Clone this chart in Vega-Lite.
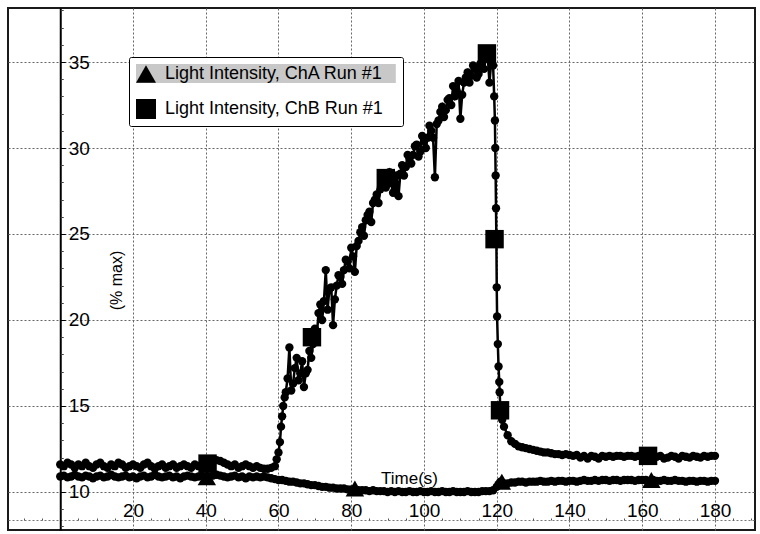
{
  "$schema": "https://vega.github.io/schema/vega-lite/v6.json",
  "width": 747,
  "height": 522,
  "autosize": {"type": "none"},
  "padding": {"left": 8, "top": 8, "right": 5, "bottom": 4},
  "background": "white",
  "config": {
    "view": {"stroke": "#1a1a1a", "strokeWidth": 2},
    "font": "Liberation Sans"
  },
  "datasets": {
    "series": [
      {"c":"ChA","t":0,"v":10.9},{"c":"ChA","t":1,"v":10.95},{"c":"ChA","t":2,"v":10.85},{"c":"ChA","t":3,"v":10.9},{"c":"ChA","t":4,"v":11.0},{"c":"ChA","t":5,"v":10.9},{"c":"ChA","t":6,"v":10.85},{"c":"ChA","t":7,"v":10.95},{"c":"ChA","t":8,"v":10.9},{"c":"ChA","t":9,"v":10.8},
      {"c":"ChA","t":10,"v":10.9},{"c":"ChA","t":11,"v":10.95},{"c":"ChA","t":12,"v":10.85},{"c":"ChA","t":13,"v":10.9},{"c":"ChA","t":14,"v":11.0},{"c":"ChA","t":15,"v":10.9},{"c":"ChA","t":16,"v":10.85},{"c":"ChA","t":17,"v":10.9},{"c":"ChA","t":18,"v":10.95},{"c":"ChA","t":19,"v":10.85},
      {"c":"ChA","t":20,"v":10.9},{"c":"ChA","t":21,"v":10.8},{"c":"ChA","t":22,"v":10.9},{"c":"ChA","t":23,"v":10.95},{"c":"ChA","t":24,"v":10.85},{"c":"ChA","t":25,"v":10.9},{"c":"ChA","t":26,"v":11.0},{"c":"ChA","t":27,"v":10.9},{"c":"ChA","t":28,"v":10.85},{"c":"ChA","t":29,"v":10.9},
      {"c":"ChA","t":30,"v":10.95},{"c":"ChA","t":31,"v":10.85},{"c":"ChA","t":32,"v":10.9},{"c":"ChA","t":33,"v":10.8},{"c":"ChA","t":34,"v":10.9},{"c":"ChA","t":35,"v":10.95},{"c":"ChA","t":36,"v":10.9},{"c":"ChA","t":37,"v":10.85},{"c":"ChA","t":38,"v":10.9},{"c":"ChA","t":39,"v":10.95},
      {"c":"ChA","t":40,"v":10.85},{"c":"ChA","t":41,"v":10.9},{"c":"ChA","t":42,"v":10.95},{"c":"ChA","t":43,"v":11.0},{"c":"ChA","t":44,"v":10.95},{"c":"ChA","t":45,"v":10.9},{"c":"ChA","t":46,"v":10.85},{"c":"ChA","t":47,"v":10.9},{"c":"ChA","t":48,"v":10.95},{"c":"ChA","t":49,"v":10.85},
      {"c":"ChA","t":50,"v":10.9},{"c":"ChA","t":51,"v":10.8},{"c":"ChA","t":52,"v":10.9},{"c":"ChA","t":53,"v":10.85},{"c":"ChA","t":54,"v":10.9},{"c":"ChA","t":55,"v":10.85},{"c":"ChA","t":56,"v":10.9},{"c":"ChA","t":57,"v":10.85},{"c":"ChA","t":58,"v":10.8},{"c":"ChA","t":59,"v":10.75},
      {"c":"ChA","t":60,"v":10.7},{"c":"ChA","t":61,"v":10.7},{"c":"ChA","t":62,"v":10.65},{"c":"ChA","t":63,"v":10.6},{"c":"ChA","t":64,"v":10.6},{"c":"ChA","t":65,"v":10.55},{"c":"ChA","t":66,"v":10.5},{"c":"ChA","t":67,"v":10.5},{"c":"ChA","t":68,"v":10.45},{"c":"ChA","t":69,"v":10.4},
      {"c":"ChA","t":70,"v":10.4},{"c":"ChA","t":71,"v":10.35},{"c":"ChA","t":72,"v":10.3},{"c":"ChA","t":73,"v":10.3},{"c":"ChA","t":74,"v":10.25},{"c":"ChA","t":75,"v":10.25},{"c":"ChA","t":76,"v":10.2},{"c":"ChA","t":77,"v":10.2},{"c":"ChA","t":78,"v":10.2},{"c":"ChA","t":79,"v":10.15},
      {"c":"ChA","t":80,"v":10.15},{"c":"ChA","t":81,"v":10.15},{"c":"ChA","t":82,"v":10.1},{"c":"ChA","t":83,"v":10.1},{"c":"ChA","t":84,"v":10.1},{"c":"ChA","t":85,"v":10.05},{"c":"ChA","t":86,"v":10.1},{"c":"ChA","t":87,"v":10.05},{"c":"ChA","t":88,"v":10.05},{"c":"ChA","t":89,"v":10.05},
      {"c":"ChA","t":90,"v":10.0},{"c":"ChA","t":91,"v":10.05},{"c":"ChA","t":92,"v":10.0},{"c":"ChA","t":93,"v":10.05},{"c":"ChA","t":94,"v":10.0},{"c":"ChA","t":95,"v":10.0},{"c":"ChA","t":96,"v":10.05},{"c":"ChA","t":97,"v":10.0},{"c":"ChA","t":98,"v":10.0},{"c":"ChA","t":99,"v":10.05},
      {"c":"ChA","t":100,"v":10.0},{"c":"ChA","t":101,"v":10.0},{"c":"ChA","t":102,"v":10.05},{"c":"ChA","t":103,"v":10.0},{"c":"ChA","t":104,"v":10.0},{"c":"ChA","t":105,"v":10.05},{"c":"ChA","t":106,"v":10.0},{"c":"ChA","t":107,"v":10.0},{"c":"ChA","t":108,"v":10.05},{"c":"ChA","t":109,"v":10.0},
      {"c":"ChA","t":110,"v":10.0},{"c":"ChA","t":111,"v":10.0},{"c":"ChA","t":112,"v":10.05},{"c":"ChA","t":113,"v":10.0},{"c":"ChA","t":114,"v":10.0},{"c":"ChA","t":115,"v":10.0},{"c":"ChA","t":116,"v":10.05},{"c":"ChA","t":117,"v":10.05},{"c":"ChA","t":118,"v":10.05},{"c":"ChA","t":119,"v":10.1},
      {"c":"ChA","t":120,"v":10.3},{"c":"ChA","t":120.5,"v":10.45},{"c":"ChA","t":121,"v":10.6},{"c":"ChA","t":122,"v":10.5},{"c":"ChA","t":123,"v":10.5},{"c":"ChA","t":124,"v":10.55},{"c":"ChA","t":125,"v":10.55},{"c":"ChA","t":126,"v":10.6},{"c":"ChA","t":127,"v":10.6},{"c":"ChA","t":128,"v":10.55},{"c":"ChA","t":129,"v":10.6},
      {"c":"ChA","t":130,"v":10.6},{"c":"ChA","t":131,"v":10.6},{"c":"ChA","t":132,"v":10.65},{"c":"ChA","t":133,"v":10.6},{"c":"ChA","t":134,"v":10.6},{"c":"ChA","t":135,"v":10.65},{"c":"ChA","t":136,"v":10.6},{"c":"ChA","t":137,"v":10.65},{"c":"ChA","t":138,"v":10.65},{"c":"ChA","t":139,"v":10.6},
      {"c":"ChA","t":140,"v":10.65},{"c":"ChA","t":141,"v":10.65},{"c":"ChA","t":142,"v":10.6},{"c":"ChA","t":143,"v":10.65},{"c":"ChA","t":144,"v":10.7},{"c":"ChA","t":145,"v":10.65},{"c":"ChA","t":146,"v":10.65},{"c":"ChA","t":147,"v":10.7},{"c":"ChA","t":148,"v":10.65},{"c":"ChA","t":149,"v":10.7},
      {"c":"ChA","t":150,"v":10.7},{"c":"ChA","t":151,"v":10.65},{"c":"ChA","t":152,"v":10.7},{"c":"ChA","t":153,"v":10.7},{"c":"ChA","t":154,"v":10.65},{"c":"ChA","t":155,"v":10.7},{"c":"ChA","t":156,"v":10.7},{"c":"ChA","t":157,"v":10.7},{"c":"ChA","t":158,"v":10.65},{"c":"ChA","t":159,"v":10.7},
      {"c":"ChA","t":160,"v":10.7},{"c":"ChA","t":161,"v":10.7},{"c":"ChA","t":162,"v":10.65},{"c":"ChA","t":163,"v":10.7},{"c":"ChA","t":164,"v":10.65},{"c":"ChA","t":165,"v":10.65},{"c":"ChA","t":166,"v":10.7},{"c":"ChA","t":167,"v":10.65},{"c":"ChA","t":168,"v":10.65},{"c":"ChA","t":169,"v":10.7},
      {"c":"ChA","t":170,"v":10.65},{"c":"ChA","t":171,"v":10.65},{"c":"ChA","t":172,"v":10.6},{"c":"ChA","t":173,"v":10.65},{"c":"ChA","t":174,"v":10.65},{"c":"ChA","t":175,"v":10.6},{"c":"ChA","t":176,"v":10.65},{"c":"ChA","t":177,"v":10.65},{"c":"ChA","t":178,"v":10.6},{"c":"ChA","t":179,"v":10.65},{"c":"ChA","t":180,"v":10.65},
      {"c":"ChB","t":0,"v":11.6},{"c":"ChB","t":1,"v":11.5},{"c":"ChB","t":2,"v":11.7},{"c":"ChB","t":3,"v":11.6},{"c":"ChB","t":4,"v":11.4},{"c":"ChB","t":5,"v":11.6},{"c":"ChB","t":6,"v":11.5},{"c":"ChB","t":7,"v":11.7},{"c":"ChB","t":8,"v":11.5},{"c":"ChB","t":9,"v":11.4},
      {"c":"ChB","t":10,"v":11.6},{"c":"ChB","t":11,"v":11.7},{"c":"ChB","t":12,"v":11.5},{"c":"ChB","t":13,"v":11.4},{"c":"ChB","t":14,"v":11.6},{"c":"ChB","t":15,"v":11.5},{"c":"ChB","t":16,"v":11.7},{"c":"ChB","t":17,"v":11.6},{"c":"ChB","t":18,"v":11.4},{"c":"ChB","t":19,"v":11.5},
      {"c":"ChB","t":20,"v":11.6},{"c":"ChB","t":21,"v":11.5},{"c":"ChB","t":22,"v":11.4},{"c":"ChB","t":23,"v":11.6},{"c":"ChB","t":24,"v":11.7},{"c":"ChB","t":25,"v":11.5},{"c":"ChB","t":26,"v":11.35},{"c":"ChB","t":27,"v":11.5},{"c":"ChB","t":28,"v":11.6},{"c":"ChB","t":29,"v":11.4},
      {"c":"ChB","t":30,"v":11.5},{"c":"ChB","t":31,"v":11.6},{"c":"ChB","t":32,"v":11.4},{"c":"ChB","t":33,"v":11.5},{"c":"ChB","t":34,"v":11.6},{"c":"ChB","t":35,"v":11.5},{"c":"ChB","t":36,"v":11.4},{"c":"ChB","t":37,"v":11.6},{"c":"ChB","t":38,"v":11.5},{"c":"ChB","t":39,"v":11.6},
      {"c":"ChB","t":40,"v":11.7},{"c":"ChB","t":41,"v":11.6},{"c":"ChB","t":42,"v":11.8},{"c":"ChB","t":43,"v":11.85},{"c":"ChB","t":44,"v":11.8},{"c":"ChB","t":45,"v":11.7},{"c":"ChB","t":46,"v":11.6},{"c":"ChB","t":47,"v":11.5},{"c":"ChB","t":48,"v":11.6},{"c":"ChB","t":49,"v":11.4},
      {"c":"ChB","t":50,"v":11.5},{"c":"ChB","t":51,"v":11.6},{"c":"ChB","t":52,"v":11.5},{"c":"ChB","t":53,"v":11.4},{"c":"ChB","t":54,"v":11.5},{"c":"ChB","t":55,"v":11.4},{"c":"ChB","t":56,"v":11.35},{"c":"ChB","t":57,"v":11.35},{"c":"ChB","t":58,"v":11.4},{"c":"ChB","t":59,"v":11.5},
      {"c":"ChB","t":59.5,"v":11.9},{"c":"ChB","t":60,"v":12.3},{"c":"ChB","t":60.4,"v":12.9},{"c":"ChB","t":60.7,"v":13.8},{"c":"ChB","t":61,"v":14.4},{"c":"ChB","t":61.3,"v":15.0},{"c":"ChB","t":61.7,"v":15.5},
      {"c":"ChB","t":62,"v":15.8},{"c":"ChB","t":62.5,"v":16.6},{"c":"ChB","t":63,"v":18.4},{"c":"ChB","t":63.5,"v":15.9},{"c":"ChB","t":64,"v":16.3},{"c":"ChB","t":64.5,"v":17.2},{"c":"ChB","t":65,"v":17.8},{"c":"ChB","t":65.5,"v":16.5},{"c":"ChB","t":66,"v":16.9},{"c":"ChB","t":66.5,"v":17.6},{"c":"ChB","t":67,"v":16.1},{"c":"ChB","t":67.5,"v":16.9},{"c":"ChB","t":68,"v":17.1},{"c":"ChB","t":68.5,"v":18.2},{"c":"ChB","t":69,"v":17.8},{"c":"ChB","t":69.5,"v":18.6},
      {"c":"ChB","t":70,"v":19.5},{"c":"ChB","t":70.5,"v":19.0},{"c":"ChB","t":71,"v":20.4},{"c":"ChB","t":71.5,"v":20.9},{"c":"ChB","t":72,"v":20.0},{"c":"ChB","t":72.5,"v":21.1},{"c":"ChB","t":73,"v":22.9},{"c":"ChB","t":73.5,"v":20.6},{"c":"ChB","t":74,"v":21.8},{"c":"ChB","t":74.5,"v":21.9},{"c":"ChB","t":75,"v":19.7},{"c":"ChB","t":75.5,"v":21.2},{"c":"ChB","t":76,"v":22.0},{"c":"ChB","t":76.5,"v":22.6},{"c":"ChB","t":77,"v":22.5},{"c":"ChB","t":77.5,"v":22.1},{"c":"ChB","t":78,"v":22.9},{"c":"ChB","t":78.5,"v":23.5},{"c":"ChB","t":79,"v":23.4},{"c":"ChB","t":79.5,"v":23.0},
      {"c":"ChB","t":80,"v":24.2},{"c":"ChB","t":80.5,"v":23.7},{"c":"ChB","t":81,"v":22.8},{"c":"ChB","t":81.5,"v":24.3},{"c":"ChB","t":82,"v":24.6},{"c":"ChB","t":82.5,"v":25.1},{"c":"ChB","t":83,"v":25.4},{"c":"ChB","t":83.5,"v":24.9},{"c":"ChB","t":84,"v":25.8},{"c":"ChB","t":84.5,"v":26.1},{"c":"ChB","t":85,"v":26.3},{"c":"ChB","t":85.5,"v":25.7},{"c":"ChB","t":86,"v":26.8},{"c":"ChB","t":86.5,"v":27.0},{"c":"ChB","t":87,"v":27.3},{"c":"ChB","t":87.5,"v":26.8},{"c":"ChB","t":88,"v":27.6},{"c":"ChB","t":88.5,"v":28.0},{"c":"ChB","t":89,"v":28.3},{"c":"ChB","t":89.5,"v":27.7},
      {"c":"ChB","t":90,"v":28.3},{"c":"ChB","t":90.5,"v":28.6},{"c":"ChB","t":91,"v":28.0},{"c":"ChB","t":91.5,"v":27.4},{"c":"ChB","t":92,"v":27.6},{"c":"ChB","t":92.5,"v":28.4},{"c":"ChB","t":93,"v":27.2},{"c":"ChB","t":93.5,"v":28.5},{"c":"ChB","t":94,"v":29.0},{"c":"ChB","t":94.5,"v":28.4},{"c":"ChB","t":95,"v":28.9},{"c":"ChB","t":95.5,"v":29.6},{"c":"ChB","t":96,"v":29.4},{"c":"ChB","t":96.5,"v":29.1},{"c":"ChB","t":97,"v":29.6},{"c":"ChB","t":97.5,"v":30.1},{"c":"ChB","t":98,"v":30.2},{"c":"ChB","t":98.5,"v":29.5},{"c":"ChB","t":99,"v":29.8},{"c":"ChB","t":99.5,"v":30.7},
      {"c":"ChB","t":100,"v":30.4},{"c":"ChB","t":100.5,"v":30.0},{"c":"ChB","t":101,"v":30.6},{"c":"ChB","t":101.5,"v":31.3},{"c":"ChB","t":102,"v":31.0},{"c":"ChB","t":102.5,"v":30.6},{"c":"ChB","t":103,"v":28.3},{"c":"ChB","t":103.5,"v":31.4},{"c":"ChB","t":104,"v":31.6},{"c":"ChB","t":104.5,"v":32.1},{"c":"ChB","t":105,"v":32.4},{"c":"ChB","t":105.5,"v":31.8},{"c":"ChB","t":106,"v":32.2},{"c":"ChB","t":106.5,"v":32.8},{"c":"ChB","t":107,"v":32.9},{"c":"ChB","t":107.5,"v":32.5},{"c":"ChB","t":108,"v":33.6},{"c":"ChB","t":108.5,"v":33.0},{"c":"ChB","t":109,"v":33.3},{"c":"ChB","t":109.5,"v":33.9},
      {"c":"ChB","t":110,"v":31.7},{"c":"ChB","t":110.5,"v":33.1},{"c":"ChB","t":111,"v":33.8},{"c":"ChB","t":111.5,"v":34.1},{"c":"ChB","t":112,"v":34.4},{"c":"ChB","t":112.5,"v":33.8},{"c":"ChB","t":113,"v":34.2},{"c":"ChB","t":113.5,"v":34.8},{"c":"ChB","t":114,"v":34.6},{"c":"ChB","t":114.5,"v":34.1},{"c":"ChB","t":115,"v":34.3},{"c":"ChB","t":115.5,"v":34.9},{"c":"ChB","t":116,"v":35.0},{"c":"ChB","t":116.5,"v":34.6},{"c":"ChB","t":117,"v":35.2},{"c":"ChB","t":117.5,"v":35.4},{"c":"ChB","t":118,"v":33.8},{"c":"ChB","t":118.5,"v":35.0},
      {"c":"ChB","t":119,"v":34.8},{"c":"ChB","t":119.3,"v":33.0},{"c":"ChB","t":119.5,"v":31.6},{"c":"ChB","t":119.6,"v":30.0},{"c":"ChB","t":119.7,"v":28.4},{"c":"ChB","t":119.8,"v":26.5},{"c":"ChB","t":119.9,"v":24.7},{"c":"ChB","t":120,"v":21.9},{"c":"ChB","t":120.1,"v":20.2},{"c":"ChB","t":120.3,"v":18.6},
      {"c":"ChB","t":120.5,"v":17.3},{"c":"ChB","t":120.7,"v":16.4},{"c":"ChB","t":120.8,"v":15.8},{"c":"ChB","t":121,"v":14.8},{"c":"ChB","t":121.5,"v":14.2},{"c":"ChB","t":122,"v":13.8},{"c":"ChB","t":123,"v":13.3},{"c":"ChB","t":124,"v":12.95},{"c":"ChB","t":125,"v":12.8},{"c":"ChB","t":126,"v":12.65},
      {"c":"ChB","t":127,"v":12.6},{"c":"ChB","t":128,"v":12.55},{"c":"ChB","t":129,"v":12.5},{"c":"ChB","t":130,"v":12.45},{"c":"ChB","t":131,"v":12.4},{"c":"ChB","t":132,"v":12.35},{"c":"ChB","t":133,"v":12.3},{"c":"ChB","t":134,"v":12.3},{"c":"ChB","t":135,"v":12.25},{"c":"ChB","t":136,"v":12.2},
      {"c":"ChB","t":137,"v":12.2},{"c":"ChB","t":138,"v":12.15},{"c":"ChB","t":139,"v":12.2},{"c":"ChB","t":140,"v":12.15},{"c":"ChB","t":141,"v":12.1},{"c":"ChB","t":142,"v":12.15},{"c":"ChB","t":143,"v":12.0},{"c":"ChB","t":144,"v":12.1},{"c":"ChB","t":145,"v":11.95},{"c":"ChB","t":146,"v":12.1},
      {"c":"ChB","t":147,"v":12.05},{"c":"ChB","t":148,"v":11.95},{"c":"ChB","t":149,"v":12.1},{"c":"ChB","t":150,"v":12.05},{"c":"ChB","t":151,"v":12.1},{"c":"ChB","t":152,"v":12.05},{"c":"ChB","t":153,"v":12.1},{"c":"ChB","t":154,"v":12.1},{"c":"ChB","t":155,"v":12.05},{"c":"ChB","t":156,"v":12.1},
      {"c":"ChB","t":157,"v":12.1},{"c":"ChB","t":158,"v":12.05},{"c":"ChB","t":159,"v":12.1},{"c":"ChB","t":160,"v":12.1},{"c":"ChB","t":161,"v":12.05},{"c":"ChB","t":162,"v":12.1},{"c":"ChB","t":163,"v":12.1},{"c":"ChB","t":164,"v":12.05},{"c":"ChB","t":165,"v":12.1},{"c":"ChB","t":166,"v":11.95},
      {"c":"ChB","t":167,"v":12.0},{"c":"ChB","t":168,"v":12.1},{"c":"ChB","t":169,"v":12.05},{"c":"ChB","t":170,"v":11.95},{"c":"ChB","t":171,"v":12.1},{"c":"ChB","t":172,"v":12.05},{"c":"ChB","t":173,"v":12.0},{"c":"ChB","t":174,"v":12.1},{"c":"ChB","t":175,"v":12.05},{"c":"ChB","t":176,"v":12.0},
      {"c":"ChB","t":177,"v":12.1},{"c":"ChB","t":178,"v":12.05},{"c":"ChB","t":179,"v":12.1},{"c":"ChB","t":180,"v":12.1}
    ],
    "markers": [
      {"c":"ChA","t":40.3,"v":10.85},{"c":"ChA","t":81,"v":10.2},{"c":"ChA","t":121.4,"v":10.6},{"c":"ChA","t":162.5,"v":10.7},
      {"c":"ChB","t":40.5,"v":11.65},{"c":"ChB","t":69.2,"v":19.0},{"c":"ChB","t":89.5,"v":28.25},{"c":"ChB","t":117.3,"v":35.5},{"c":"ChB","t":119.4,"v":24.7},{"c":"ChB","t":120.9,"v":14.75},{"c":"ChB","t":161.6,"v":12.1}
    ]
  },
  "layer": [
    {
      "data": {"name": "series"},
      "mark": {"type": "line", "color": "black", "strokeWidth": 2.5},
      "encoding": {
        "x": {"field": "t", "type": "quantitative",
          "scale": {"domain": [-14.36, 191.0], "nice": false, "zero": false},
          "axis": {"orient": "bottom", "values": [20,40,60,80,100,120,140,160,180], "grid": true, "gridColor": "#666666", "gridDash": [2,2], "gridWidth": 1, "labels": false, "ticks": false, "domain": false, "title": null}},
        "y": {"field": "v", "type": "quantitative",
          "scale": {"domain": [7.79, 38.14], "nice": false, "zero": false},
          "axis": {"orient": "left", "values": [10,15,20,25,30,35], "grid": true, "gridColor": "#666666", "gridDash": [2,2], "gridWidth": 1, "labels": false, "ticks": false, "domain": false, "title": null}},
        "detail": {"field": "c"}
      }
    },
    {
      "data": {"name": "series"},
      "mark": {"type": "circle", "size": 70, "color": "black", "opacity": 1},
      "encoding": {
        "x": {"field": "t", "type": "quantitative",
          "axis": {"orient": "top", "offset": -512, "values": [20,40,60,80,100,120,140,160,180], "grid": false,
            "domain": true, "domainColor": "#777777", "domainDash": [2,2], "domainWidth": 1,
            "ticks": true, "tickSize": 3, "tickColor": "#555555",
            "labelFontSize": 19, "labelColor": "black", "labelPadding": 1, "labelBaseline": "alphabetic",
            "title": "Time(s)", "titleX": 401, "titleY": -42, "titleFontSize": 17, "titleFontWeight": "normal", "titleColor": "black", "titleAlign": "center", "titleBaseline": "middle"}},
        "y": {"field": "v", "type": "quantitative",
          "axis": {"orient": "right", "offset": -694.75, "values": [10,15,20,25,30,35], "grid": false,
            "domain": true, "domainColor": "black", "domainWidth": 2,
            "ticks": true, "tickSize": 5, "tickColor": "black",
            "labelFontSize": 19, "labelColor": "black", "labelPadding": 3,
            "title": "(% max)", "titleAngle": 270, "titleX": 56, "titleY": 272, "titleFontSize": 16, "titleFontWeight": "normal", "titleColor": "black", "titleAlign": "center", "titleBaseline": "middle"}},
        "detail": {"field": "c"}
      }
    },
    {
      "data": {"name": "markers"},
      "mark": {"type": "point", "filled": true, "color": "black", "opacity": 1, "size": 340},
      "encoding": {
        "x": {"field": "t", "type": "quantitative",
          "axis": {"orient": "top", "offset": -512, "values": [-10,-5,0,5,10,15,25,30,35,45,50,55,65,70,75,85,90,95,105,110,115,125,130,135,145,150,155,165,170,175,185,190], "labels": false, "ticks": true, "tickSize": 2, "tickColor": "#555555", "domain": false, "grid": false, "title": null}},
        "y": {"field": "v", "type": "quantitative",
          "axis": {"orient": "right", "offset": -694.75, "values": [8,9,11,12,13,14,16,17,18,19,21,22,23,24,26,27,28,29,31,32,33,34,36,37,38], "labels": false, "ticks": true, "tickSize": 3, "tickColor": "#444444", "domain": false, "grid": false, "title": null}},
        "shape": {"field": "c", "type": "nominal",
          "scale": {"domain": ["ChA", "ChB"], "range": ["triangle-up", "square"]},
          "legend": {"orient": "none", "legendX": 121, "legendY": 49, "title": null,
            "fillColor": "white", "strokeColor": "black", "cornerRadius": 2, "padding": 7,
            "symbolSize": 400, "symbolFillColor": "black", "symbolStrokeColor": "black", "symbolStrokeWidth": 0,
            "labelFontSize": 18, "labelColor": "black", "labelOffset": 9, "rowPadding": 16, "labelLimit": 400,
            "labelExpr": "'Light Intensity, ' + datum.label + ' Run #1\u2800'",
            "encoding": {"entries": {"fill": {"condition": {"test": "datum.index === 0", "value": "#c8c8c8"}, "value": "transparent"}, "width": {"value": 270}, "height": {"value": 25}}}}}
      }
    }
  ],
  "resolve": {"axis": {"x": "independent", "y": "independent"}}
}
